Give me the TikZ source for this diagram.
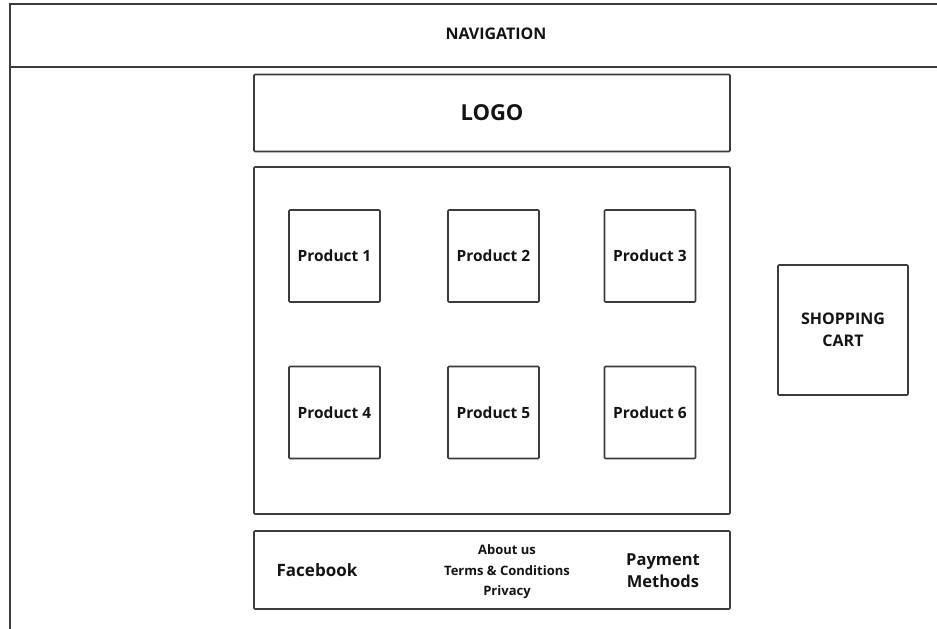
\documentclass[tikz,border=0pt]{standalone}
\usepackage{fontspec}
\setmainfont{Open Sans}
\usetikzlibrary{positioning}
\definecolor{wireline}{RGB}{60,60,60}
\definecolor{wiretext}{RGB}{20,20,20}
\tikzset{
  % wireframe boxes
  frame/.style={draw=wireline, line width=1.6pt, rounded corners=1pt, inner sep=0pt},
  product/.style={frame, minimum width=91pt, minimum height=92pt, font=\fontsize{15.5}{17}\selectfont\bfseries, text=wiretext},
  label/.style={font=\fontsize{16.5}{22}\selectfont\bfseries, text=wiretext, align=center},
  small/.style={font=\fontsize{13}{15}\selectfont\bfseries, text=wiretext},
}
\begin{document}
\begin{tikzpicture}[x=1pt, y=-1pt]
  \useasboundingbox (0,0) rectangle (937,629);

  % Navigation bar
  \draw[wireline, line width=1.6pt] (10,629) -- (10,4) -- (937,4);
  \draw[wireline, line width=1.6pt] (10,67) -- (937,67);
  \node[small, font=\fontsize{16}{18}\selectfont\bfseries] (nav) at (496,34) {NAVIGATION};

  % Logo and content
  \node[frame, minimum width=476pt, minimum height=77pt, font=\fontsize{22}{24}\selectfont\bfseries, text=wiretext] (logo) at (492,113) {LOGO};
  \node[frame, minimum width=476pt, minimum height=347pt] (content) at (492,340.5) {};

  % Products
  \node[product] (p1) at (334.5,256) {Product 1};
  \node[product] (p2) at (493.5,256) {Product 2};
  \node[product] (p3) at (650,256) {Product 3};
  \node[product] (p4) at (334.5,412.5) {Product 4};
  \node[product] (p5) at (493.5,412.5) {Product 5};
  \node[product] (p6) at (650,412.5) {Product 6};

  % Cart
  \node[frame, minimum width=130pt, minimum height=130pt, label, font=\fontsize{16}{22}\selectfont\bfseries] (cart) at (843,330) {SHOPPING\\CART};

  % Footer
  \node[frame, minimum width=476pt, minimum height=78pt] (footer) at (492,570) {};
  \node[label, font=\fontsize{17}{19}\selectfont\bfseries] (fb) at (317,570) {Facebook};
  \node[small] (about) at (507,550) {About us};
  \node[small] (terms) at (507,571) {Terms \& Conditions};
  \node[small] (privacy) at (507,592) {Privacy};
  \node[label] (pay) at (663,571) {Payment\\Methods};
\end{tikzpicture}
\end{document}
